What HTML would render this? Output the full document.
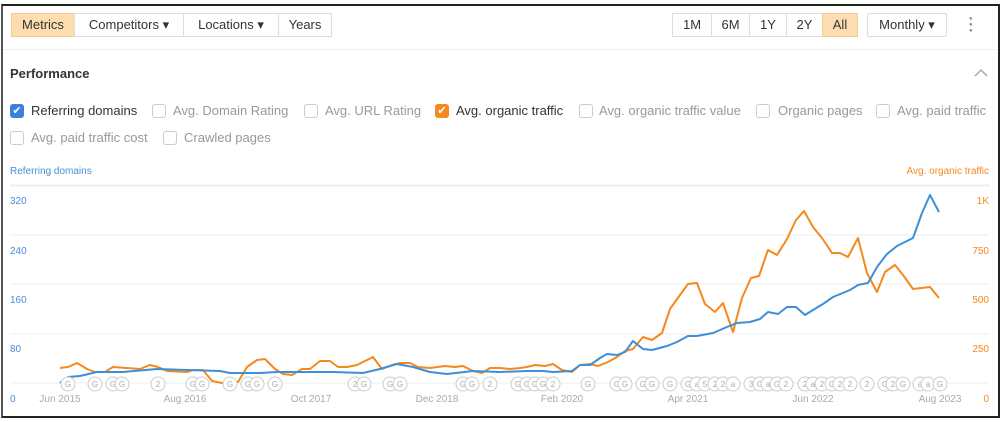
<!DOCTYPE html>
<html><head><meta charset="utf-8"><style>
*{margin:0;padding:0;box-sizing:border-box}
body{width:1006px;height:422px;background:#fff;font-family:"Liberation Sans",Arial,sans-serif;position:relative;overflow:hidden}
.frame{position:absolute;left:1px;top:4px;width:999px;height:414px;border:2px solid #222;border-left-color:#555}
.b{position:absolute;top:13px;height:24px;border:1px solid #ddd;font-size:13px;color:#333;line-height:22px;text-align:center;background:#fff}
.on{background:#fddcb0;border-color:#f5cc98}
.t{position:absolute;font-size:13px;color:#999;white-space:nowrap}
.cb{position:absolute;width:14px;height:14px;border:1px solid #ccc;border-radius:3px;background:#fff}
.cb.c{border:none;color:#fff;font-size:11px;line-height:14px;text-align:center}
</style></head><body>
<div class="frame"></div>
<div class="b on" style="left:11px;width:64px">Metrics</div>
<div class="b" style="left:74px;width:110px">Competitors ▾</div>
<div class="b" style="left:183px;width:96px">Locations ▾</div>
<div class="b" style="left:278px;width:54px">Years</div>
<div class="b" style="left:672px;width:40px">1M</div>
<div class="b" style="left:711px;width:39px">6M</div>
<div class="b" style="left:749px;width:38px">1Y</div>
<div class="b" style="left:786px;width:37px">2Y</div>
<div class="b on" style="left:822px;width:36px">All</div>
<div class="b" style="left:867px;width:80px;border-radius:2px">Monthly ▾</div>
<div style="position:absolute;left:969px;top:16px;width:4px;font-size:6px;line-height:6px;color:#888">●<br>●<br>●</div>
<div style="position:absolute;left:3px;top:49px;width:994px;height:1px;background:#eee"></div>
<div style="position:absolute;left:10px;top:66px;font-size:13px;font-weight:bold;color:#333">Performance</div>
<svg width="14" height="10" style="position:absolute;left:974px;top:68px"><polyline points="1,8 7,2 13,8" fill="none" stroke="#aaa" stroke-width="1.5"/></svg>

<div class="cb c" style="left:10px;top:104px;background:#3d7fd9">✔</div><div class="t" style="left:31px;top:103px;color:#333">Referring domains</div>
<div class="cb" style="left:152px;top:104px"></div><div class="t" style="left:173px;top:103px">Avg. Domain Rating</div>
<div class="cb" style="left:304px;top:104px"></div><div class="t" style="left:325px;top:103px">Avg. URL Rating</div>
<div class="cb c" style="left:435px;top:104px;background:#f4891e">✔</div><div class="t" style="left:456px;top:103px;color:#333">Avg. organic traffic</div>
<div class="cb" style="left:579px;top:104px"></div><div class="t" style="left:599px;top:103px">Avg. organic traffic value</div>
<div class="cb" style="left:756px;top:104px"></div><div class="t" style="left:778px;top:103px">Organic pages</div>
<div class="cb" style="left:876px;top:104px"></div><div class="t" style="left:897px;top:103px">Avg. paid traffic</div>
<div class="cb" style="left:10px;top:131px"></div><div class="t" style="left:31px;top:130px">Avg. paid traffic cost</div>
<div class="cb" style="left:163px;top:131px"></div><div class="t" style="left:184px;top:130px">Crawled pages</div>

<svg width="1006" height="422" style="position:absolute;left:0;top:0" font-family="Liberation Sans,Arial,sans-serif">
<g font-size="10" fill="#4a8ddc"><text x="10" y="174">Referring domains</text>
<text x="10" y="204">320</text><text x="10" y="254">240</text><text x="10" y="303">160</text><text x="10" y="352">80</text><text x="10" y="402">0</text></g>
<g font-size="10" fill="#f4891e" text-anchor="end"><text x="989" y="174">Avg. organic traffic</text>
<text x="989" y="204">1K</text><text x="989" y="254">750</text><text x="989" y="303">500</text><text x="989" y="352">250</text><text x="989" y="402">0</text></g>
<g stroke="#eee" stroke-width="1"><line x1="10" x2="989" y1="185.5" y2="185.5" stroke-width="2"/><line x1="10" x2="989" y1="235" y2="235"/><line x1="10" x2="989" y1="284" y2="284"/><line x1="10" x2="989" y1="334" y2="334"/><line x1="10" x2="989" y1="383" y2="383"/></g>
<g font-size="10" fill="#aaa" text-anchor="middle"><text x="60" y="402">Jun 2015</text><text x="185" y="402">Aug 2016</text><text x="311" y="402">Oct 2017</text><text x="437" y="402">Dec 2018</text><text x="562" y="402">Feb 2020</text><text x="688" y="402">Apr 2021</text><text x="813" y="402">Jun 2022</text><text x="940" y="402">Aug 2023</text></g>
<polyline fill="none" stroke="#f4891e" stroke-width="2" stroke-linejoin="round" points="60,368 68,367 77,363 87,369 95,372 105,372 113,367 140,369 150,365 158,367 167,371 187,372 193,370 203,370 212,381 222,383 230,383 238,382 247,367 257,360 265,359 275,369 283,374 292,375 302,369 310,369 320,361 330,361 338,367 347,367 357,365 365,361 373,357 382,369 392,365 400,363 410,363 418,367 430,368 445,366 455,367 463,366 473,371 482,373 490,368 500,368 510,369 520,368 527,367 535,365 545,366 553,364 562,370 572,372 580,365 590,364 598,366 608,362 617,357 625,351 633,349 643,337 652,340 662,333 670,309 680,295 688,284 697,283 705,304 715,312 723,303 733,332 742,298 751,278 759,276 768,250 777,255 787,239 796,220 804,211 813,227 822,238 832,253 840,253 848,257 858,238 867,273 877,292 885,272 895,265 903,275 913,289 930,287 939,298"/>
<polyline fill="none" stroke="#3d8fd9" stroke-width="2" stroke-linejoin="round" points="60,383 68,377 80,376 97,372 123,372 157,369 187,370 220,371 230,373 260,373 277,372 333,372 363,373 380,369 397,364 413,367 430,372 447,374 473,371 500,372 527,371 543,371 553,372 572,371 580,365 590,365 600,358 607,354 617,355 625,352 633,341 643,349 652,350 667,346 677,342 688,336 697,336 713,333 727,327 737,323 750,322 760,319 768,312 778,314 787,307 796,307 805,315 813,310 823,304 833,297 850,290 858,285 868,283 877,267 887,254 897,246 913,238 922,213 930,195 939,212"/>
<g font-size="8" fill="#aaa" text-anchor="middle" id="ev"></g>
</svg>
<script>
var ev=[[68,'G'],[95,'G'],[113,'G'],[122,'G'],[158,'2'],[193,'G'],[202,'G'],[230,'G'],[248,'G'],[257,'G'],[275,'G'],[355,'2'],[364,'G'],[390,'G'],[400,'G'],[463,'G'],[472,'G'],[490,'2'],[518,'G'],[527,'G'],[535,'G'],[543,'G'],[553,'2'],[588,'G'],[617,'G'],[625,'G'],[643,'G'],[652,'G'],[670,'G'],[688,'G'],[697,'a'],[705,'5'],[715,'2'],[723,'2'],[733,'a'],[751,'3'],[760,'G'],[768,'a'],[777,'G'],[786,'2'],[805,'2'],[813,'a'],[822,'2'],[832,'G'],[840,'2'],[850,'2'],[867,'2'],[885,'G'],[893,'2'],[903,'G'],[920,'a'],[928,'a'],[940,'G']];
var g=document.getElementById('ev'),s='';
ev.forEach(function(e){s+='<circle cx="'+e[0]+'" cy="384" r="7" fill="#fff" stroke="#ccc"/><text x="'+e[0]+'" y="387">'+e[1]+'</text>';});
g.innerHTML=s;
</script>
</body></html>
